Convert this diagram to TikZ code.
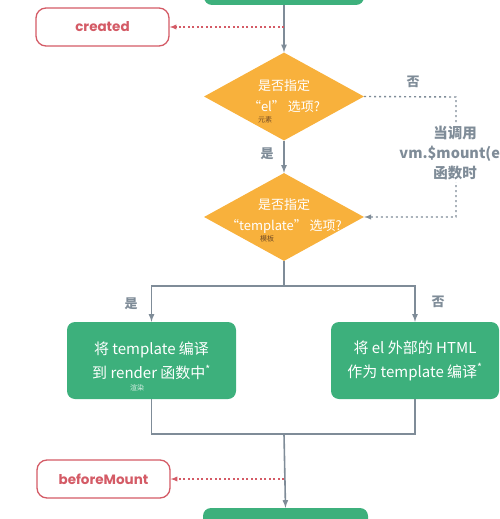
\documentclass[tikz,border=0pt]{standalone}
\usepackage{fontspec}
\setmainfont{Noto Sans CJK SC}
\newfontfamily\hookfont{Poppins}
\usetikzlibrary{arrows,shapes.geometric,positioning}
\definecolor{vuegreen}{HTML}{3DB07C}
\definecolor{vueorange}{HTML}{F8B13C}
\definecolor{hookred}{HTML}{D45B66}
\definecolor{flowgray}{HTML}{7F8C98}
\tikzset{
    stage/.style={rectangle, rounded corners=8pt, fill=vuegreen, text=white, align=center, inner sep=0pt, font=\fontsize{15}{24}\selectfont},
    choice/.style={diamond, aspect=1.8, fill=vueorange, inner sep=0pt, minimum width=160pt, minimum height=88pt},
    choicetext/.style={text=white, align=center, font=\fontsize{13}{21}\selectfont},
    hook/.style={rectangle, rounded corners=10pt, draw=hookred, line width=1.3pt, fill=white, text=hookred, minimum width=133pt, minimum height=38pt, font=\hookfont\bfseries\fontsize{13.5}{16}\selectfont},
    flow/.style={draw=flowgray, line width=1.6pt},
    hookline/.style={draw=hookred, line width=1.3pt, dash pattern=on 2pt off 2.5pt},
    mountline/.style={draw=flowgray, line width=1.4pt, dash pattern=on 2pt off 3pt},
    answer/.style={text=flowgray, font=\bfseries\fontsize{13}{16}\selectfont},
    tiny/.style={font=\fontsize{7}{8}\selectfont, inner sep=0pt}
}

\begin{document}
\begin{tikzpicture}
  [
    x   = 1pt,
    y   = -1pt,
    >   = latex,
  ]
  \useasboundingbox (0,0) rectangle (500,519);
  \clip (0,0) rectangle (500,519);

  % green stages
  \node [stage, minimum width=160pt, minimum height=40pt] (init) at (284,-15) {};
  \node [stage, minimum width=169pt, minimum height=77pt] (compile) at (151.5,360.5) {将 template 编译\\到 render 函数中\textsuperscript{*}};
  \node [stage, minimum width=168pt, minimum height=77pt] (outer) at (415,360.5) {将 el 外部的 HTML\\作为 template 编译\textsuperscript{*}};
  \node [stage, minimum width=165pt, minimum height=40pt] (render) at (285.5,528) {};

  % decisions
  \node [choice] (el) at (284,96.5) {};
  \node [choicetext] (eltext) at (el) {是否指定\\“el” 选项?};
  \node [choice] (tpl) at (284,217) {};
  \node [choicetext] (tpltext) at (284,215.5) {是否指定\\“template” 选项?};

  % hooks
  \node [hook] (created) at (102.5,27) {created};
  \node [hook] (beforemount) at (103.5,479) {beforeMount};

  % small notes
  \node [tiny, text=brown!60!black] (elnote) at (265,120) {元素};
  \node [tiny, text=brown!60!black] (tplnote) at (267,239) {模板};
  \node [tiny, text=white!80!vuegreen] (rendernote) at (137,388) {渲染};

  \coordinate (split) at (284,286);
  \coordinate (join) at (284,434);
  \coordinate (turnA) at (456,97);
  \coordinate (turnB) at (456,217);

  \draw [flow, ->] (init.south) -- (el.north);
  \draw [flow, ->] (el.south) -- (tpl.north);
  \draw [flow] (tpl.south) -- (split);
  \draw [flow, ->] (split) -| (compile.north);
  \draw [flow, ->] (split) -| (outer.north);
  \draw [flow] (compile.south) |- (join);
  \draw [flow] (outer.south) |- (join);
  \draw [flow, ->] (join) -- (render.north);

  \draw [hookline, ->] (init.south |- created.east) -- (created.east);
  \draw [hookline, ->] (join |- beforemount.east) -- (beforemount.east);

  \draw [mountline, ->] (el.east) -- (turnA) -- (turnB) -- (tpl.east);
  \node [fill=white, text=flowgray, align=center, inner sep=2pt, font=\bfseries\fontsize{14.5}{20}\selectfont] (mount) at (455,153) {当调用\\vm.\$mount(el)\\函数时};

  \node [answer] (elno) at (413,82) {否};
  \node [answer] (elyes) at (267,154) {是};
  \node [answer] (tplyes) at (131,304) {是};
  \node [answer] (tplno) at (438,302) {否};
\end{tikzpicture}
\end{document}
